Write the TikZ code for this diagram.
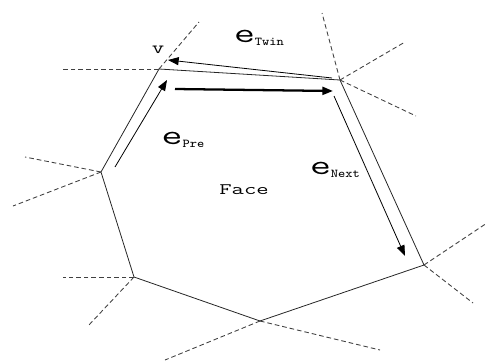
\documentclass[tikz,border=0pt]{standalone}
\usepackage{fontspec}
\usepackage{graphicx}
\usetikzlibrary{arrows.meta}
\tikzset{
  faceedge/.style={line width=0.6pt,draw=black!85},
  spoke/.style={line width=0.65pt,draw=black!75,dash pattern=on 3.5pt off 2.2pt},
  halfedge/.style={-{Triangle[length=8pt,width=6pt]},line width=0.6pt},
  tag/.style={inner sep=0pt,font=\ttfamily}
}
\newcommand{\wide}[3]{\scalebox{#1}[1]{\fontsize{#2}{#2}\selectfont #3}}
\newcommand{\hedge}[1]{\wide{1.45}{21}{e}\raisebox{-0.5ex}{\wide{1.15}{9}{#1}}}

\begin{document}
\begin{tikzpicture}[x=0.75pt,y=-0.75pt]
  \useasboundingbox (0,0) rectangle (487,361);
  % vertices of the face
  \coordinate (v1) at (159,69);
  \coordinate (v2) at (340,80);
  \coordinate (v3) at (424,265);
  \coordinate (v4) at (260,321);
  \coordinate (v5) at (134,277);
  \coordinate (v6) at (101,172);
  \draw[faceedge] (v1) -- (v2) -- (v3) -- (v4) -- (v5) -- (v6) -- cycle;
  % edges of the neighbouring faces
  \foreach \v/\x/\y in {v1/62/69, v1/199/22, v2/322/13, v2/405/42, v2/416/116,
                        v3/487/223, v3/473/303, v4/380/350, v4/165/360,
                        v5/63/277, v5/88/326, v6/25/157, v6/13/206}
    \draw[spoke] (\v) -- (\x,\y);
  % half edges
  \coordinate (tw0) at (332,78);  \coordinate (tw1) at (168,60);
  \coordinate (he0) at (175,89);  \coordinate (he1) at (333,91);
  \coordinate (pr0) at (115,167); \coordinate (pr1) at (167,80);
  \coordinate (nx0) at (334,96);  \coordinate (nx1) at (405,256);
  \draw[halfedge] (tw0) -- (tw1);
  \draw[halfedge,line width=1.7pt] (he0) -- (he1);
  \draw[halfedge] (pr0) -- (pr1);
  \draw[halfedge] (nx0) -- (nx1);
  % labels
  \node[tag] (v) at (158,50) {\wide{1.4}{13}{v}};
  \node[tag] (twin) at (259,38) {\hedge{Twin}};
  \node[tag] (pre) at (183,140) {\hedge{Pre}};
  \node[tag] (next) at (335,170) {\hedge{Next}};
  \node[tag] (face) at (244,190) {\wide{1.5}{12}{Face}};
\end{tikzpicture}
\end{document}
